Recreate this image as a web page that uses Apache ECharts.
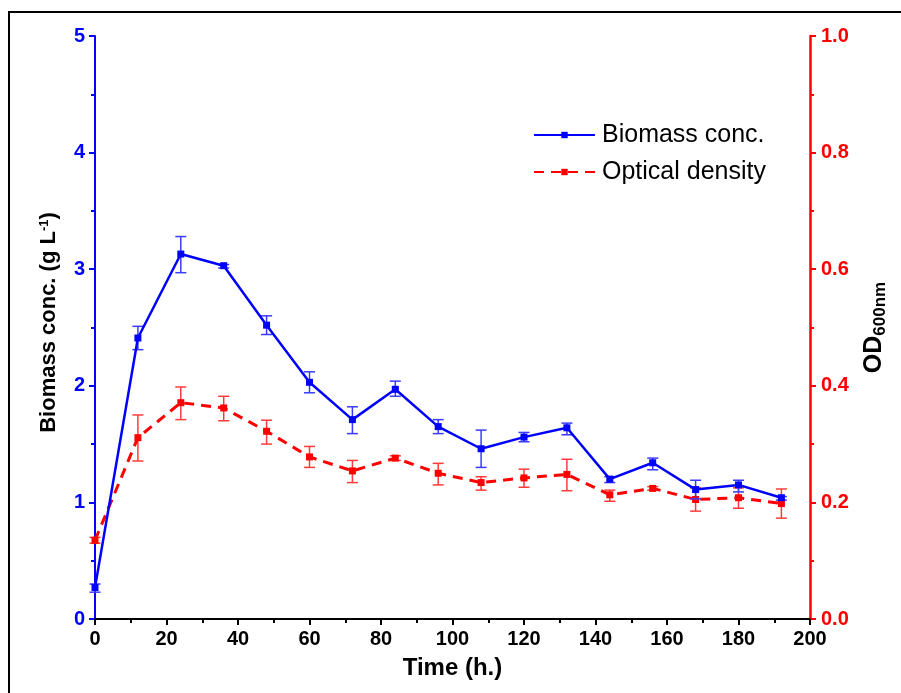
<!DOCTYPE html>
<html>
<head>
<meta charset="utf-8">
<script src="https://cdn.jsdelivr.net/npm/echarts@6/dist/echarts.min.js"></script>
<style>html,body{margin:0;padding:0;background:#fff;}#chart{width:901px;height:693px;}</style>
</head>
<body>
<div id="chart"></div>
<script>
var time = [0,12,24,36,48,60,72,84,96,108,120,132,144,156,168,180,192];
var biomass = [0.27,2.41,3.13,3.03,2.52,2.03,1.71,1.97,1.65,1.46,1.56,1.64,1.20,1.34,1.11,1.15,1.04];
var biomassLow = [0.23,2.31,2.97,3.01,2.44,1.94,1.59,1.91,1.59,1.30,1.52,1.58,1.17,1.28,1.03,1.09,1.02];
var biomassHigh = [0.30,2.51,3.28,3.04,2.60,2.12,1.82,2.04,1.71,1.62,1.60,1.68,1.22,1.38,1.19,1.19,1.05];
var od = [0.135,0.311,0.371,0.362,0.322,0.278,0.254,0.276,0.250,0.234,0.242,0.248,0.213,0.224,0.205,0.208,0.198];
var odLow = [0.130,0.271,0.342,0.340,0.300,0.260,0.234,0.272,0.230,0.221,0.226,0.220,0.202,0.221,0.185,0.190,0.173];
var odHigh = [0.140,0.350,0.398,0.382,0.341,0.296,0.272,0.280,0.267,0.244,0.257,0.274,0.221,0.227,0.225,0.225,0.223];
var seriesNames = ['Biomass conc.', 'Optical density'];

var FONT = '"Liberation Sans", Arial, sans-serif';
var BLUE = '#0000ff', RED = '#ff0000';

function pairs(xs, ys){ return xs.map(function(x,i){ return [x, ys[i]]; }); }
function triples(xs, lo, hi){ return xs.map(function(x,i){ return [x, lo[i], hi[i]]; }); }

function errRender(color){
  return function(params, api){
    var x = api.value(0);
    var p1 = api.coord([x, api.value(1)]);
    var p2 = api.coord([x, api.value(2)]);
    var w = 5.5;
    var st = {stroke: color, lineWidth: 1.5};
    return {type:'group', children:[
      {type:'line', shape:{x1:p1[0], y1:p1[1], x2:p2[0], y2:p2[1]}, style:st},
      {type:'line', shape:{x1:p1[0]-w, y1:p1[1], x2:p1[0]+w, y2:p1[1]}, style:st},
      {type:'line', shape:{x1:p2[0]-w, y1:p2[1], x2:p2[0]+w, y2:p2[1]}, style:st}
    ]};
  };
}

var chart = echarts.init(document.getElementById('chart'), null, {renderer:'canvas'});
chart.setOption({
  backgroundColor: '#fff',
  animation: false,
  grid: {left: 95, right: 91, top: 36, bottom: 74, containLabel: false},
  graphic: [{type:'rect', silent:true, z:-10, shape:{x:9, y:12, width:1000, height:1000}, style:{fill:'none', stroke:'#000', lineWidth:2}}],
  legend: {
    orient: 'vertical', left: 533, top: 122, padding: 0,
    data: seriesNames,
    itemWidth: 61, itemHeight: 8, itemGap: 11,
    textStyle: {fontFamily: FONT, fontSize: 25, color: '#000', lineHeight: 26, padding:[0,0,0,2]}
  },
  xAxis: {
    type: 'value', min: 0, max: 200, interval: 20,
    name: 'Time (h.)', nameLocation: 'middle', nameGap: 37,
    nameTextStyle: {fontFamily: FONT, fontSize: 24, fontWeight: 'bold', color: '#000'},
    axisLine: {show: true, onZero: false, lineStyle: {color: '#000', width: 2}},
    axisTick: {show: true, inside: false, length: 6, lineStyle: {color: '#000', width: 2}},
    minorTick: {show: true, splitNumber: 2, length: 4, lineStyle: {color: '#000', width: 2}},
    axisLabel: {fontFamily: FONT, fontSize: 20, fontWeight: 'bold', color: '#000', margin: 10},
    splitLine: {show: false}
  },
  yAxis: [{
    type: 'value', min: 0, max: 5, interval: 1, position: 'left',
    name: 'Biomass conc. (g L{sup|-1})', nameLocation: 'middle', nameGap: 35, nameRotate: 90,
    nameTextStyle: {fontFamily: FONT, fontSize: 22, fontWeight: 'bold', color: '#000', padding:[0,0,0,10],
      rich: {sup: {fontFamily: FONT, fontSize: 13, fontWeight: 'bold', color: '#000', verticalAlign: 'top', padding:[0,0,8,0]}}},
    axisLine: {show: true, lineStyle: {color: BLUE, width: 2}},
    axisTick: {show: true, inside: false, length: 6, lineStyle: {color: BLUE, width: 2}},
    minorTick: {show: true, splitNumber: 2, length: 4, lineStyle: {color: BLUE, width: 2}},
    axisLabel: {fontFamily: FONT, fontSize: 20, fontWeight: 'bold', color: BLUE, margin: 10},
    splitLine: {show: false}
  }, {
    type: 'value', min: 0, max: 1, interval: 0.2, position: 'right',
    name: 'OD{sub|600nm}', nameLocation: 'middle', nameGap: 50, nameRotate: 90,
    nameTextStyle: {fontFamily: FONT, fontSize: 25, fontWeight: 'bold', color: '#000',
      rich: {sub: {fontFamily: FONT, fontSize: 17, fontWeight: 'bold', color: '#000', verticalAlign: 'bottom', padding:[12,0,0,0]}}},
    axisLine: {show: true, lineStyle: {color: RED, width: 2.5}},
    axisTick: {show: true, inside: false, length: 6, lineStyle: {color: RED, width: 2}},
    minorTick: {show: true, splitNumber: 2, length: 4, lineStyle: {color: RED, width: 2}},
    axisLabel: {fontFamily: FONT, fontSize: 20, fontWeight: 'bold', color: RED, margin: 11,
      formatter: function(v){ return v.toFixed(1); }},
    splitLine: {show: false}
  }],
  series: [{
    name: 'odErr', type: 'custom', yAxisIndex: 1, z: 2,
    renderItem: errRender('#ff3b3b'), encode: {x: 0, y: [1, 2]},
    data: triples(time, odLow, odHigh), clip: false
  }, {
    name: seriesNames[1], type: 'line', yAxisIndex: 1, z: 3,
    data: pairs(time, od),
    symbol: 'rect', symbolSize: 7, showSymbol: true,
    itemStyle: {color: RED},
    lineStyle: {color: RED, width: 3, type: [10, 7]}
  }, {
    name: 'bioErr', type: 'custom', yAxisIndex: 0, z: 4,
    renderItem: errRender('#3b3bff'), encode: {x: 0, y: [1, 2]},
    data: triples(time, biomassLow, biomassHigh), clip: false
  }, {
    name: seriesNames[0], type: 'line', yAxisIndex: 0, z: 5,
    data: pairs(time, biomass),
    symbol: 'rect', symbolSize: 7, showSymbol: true,
    itemStyle: {color: BLUE},
    lineStyle: {color: BLUE, width: 2.5}
  }]
});
</script>
</body>
</html>
